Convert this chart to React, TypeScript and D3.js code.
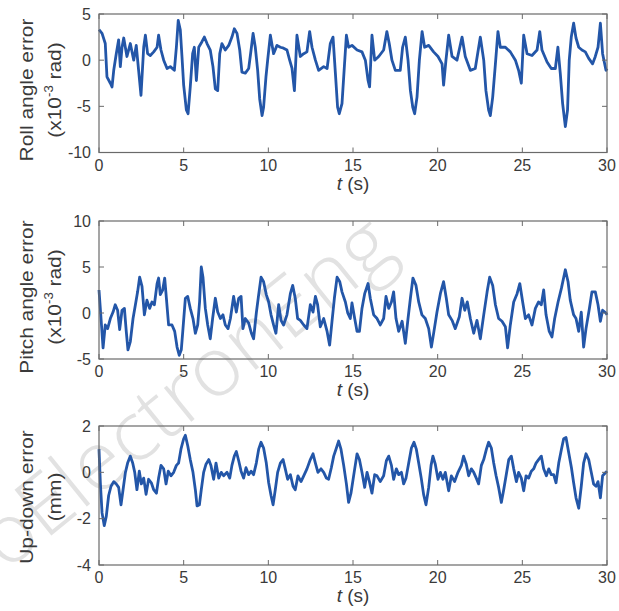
import React, { useEffect, useRef } from "react";
import * as d3 from "d3";

const xTicks = [0, 5, 10, 15, 20, 25, 30];
const rollTicks = [-10, -5, 0, 5];
const pitchTicks = [-5, 0, 5, 10];
const updownTicks = [-4, -2, 0, 2];

// roll angle error (x10^-3 rad) vs t (s)
const rollData: [number, number][] = [
  [0, 3.3], [0.18, 2.9], [0.37, 1.8], [0.47, -1.8], [0.67, -2.5], [0.77, -2.9], [0.87, -1.1], [1.02, 0.7],
  [1.16, 2.2], [1.26, -0.7], [1.36, 1.4], [1.46, 2.4], [1.65, 0.4], [1.85, 1.8], [2.05, 0], [2.2, 1.6],
  [2.34, -1.1], [2.48, -3.8], [2.64, 1.4], [2.74, 2.7], [2.87, 0.7], [3.03, 0.5], [3.23, 0.9], [3.43, 1.4],
  [3.52, 2.7], [3.66, 1.1], [3.82, 0], [4.02, -0.9], [4.21, -0.7], [4.45, -1.1], [4.57, 1.4], [4.68, 4.3],
  [4.8, 3.3], [4.9, 0.4], [5.0, -2.7], [5.16, -5.4], [5.26, -5.8], [5.39, -2.9], [5.53, 0.7], [5.63, 1.4],
  [5.75, -2.2], [5.89, 1.4], [6.08, 2.0], [6.22, 2.5], [6.38, 1.8], [6.57, 1.1], [6.73, -0.7], [6.87, -3.1],
  [7.01, -3.3], [7.13, 0.7], [7.26, 1.8], [7.46, 1.1], [7.66, 1.6], [7.85, 2.5], [7.99, 3.4], [8.15, 2.9],
  [8.31, 1.1], [8.44, -1.3], [8.64, -1.4], [8.84, -0.9], [8.98, 1.1], [9.1, 2.9], [9.23, 1.4], [9.37, -1.1],
  [9.49, -4.2], [9.63, -6.0], [9.72, -5.1], [9.86, -1.8], [9.96, 0], [10.12, 2.7], [10.31, 0.7], [10.51, 1.6],
  [10.71, 1.4], [10.9, 1.3], [11.1, 1.1], [11.26, 0], [11.4, -0.9], [11.54, -3.3], [11.69, 2.7], [11.89, 0.4],
  [12.09, 0.7], [12.28, 0.9], [12.44, 3.1], [12.58, 1.4], [12.78, 0], [12.97, -1.1], [13.27, -0.7], [13.47, -0.9],
  [13.66, 1.8], [13.82, 2.5], [13.96, -1.4], [14.09, -5.1], [14.19, -5.8], [14.35, -4.7], [14.49, -0.7], [14.61, 2.7],
  [14.74, 1.4], [14.94, 1.6], [15.24, 1.1], [15.53, 0.9], [15.73, 0], [15.89, -2.2], [15.98, -2.9], [16.12, 2.7],
  [16.28, 0], [16.52, 0.4], [16.81, 1.1], [17.0, 3.1], [17.14, 1.8], [17.3, 0], [17.5, -1.1], [17.79, -1.1],
  [17.93, 1.4], [18.09, 2.5], [18.25, 0], [18.39, -3.3], [18.53, -5.1], [18.64, -5.8], [18.78, -4.0], [18.92, 0],
  [19.08, 3.1], [19.23, 1.4], [19.47, 1.6], [19.76, 0.9], [20.02, 0.4], [20.26, -0.4], [20.35, -2.7], [20.49, 0],
  [20.65, 2.7], [20.85, 0.4], [21.14, 0], [21.44, 2.5], [21.63, 0.4], [21.93, -1.1], [22.22, -0.9], [22.52, 2.5],
  [22.72, 0], [22.85, -3.3], [23.01, -5.4], [23.11, -6.0], [23.25, -4.0], [23.41, -0.4], [23.56, 3.1], [23.7, 1.4],
  [24.0, 1.4], [24.29, 0.9], [24.59, 0], [24.78, -1.1], [24.94, -2.5], [25.08, 2.7], [25.28, 0.7], [25.57, 0.5],
  [25.87, 1.1], [26.03, 3.1], [26.16, 1.1], [26.46, -0.2], [26.71, -0.9], [26.95, -0.9], [27.1, 1.4], [27.24, -1.4],
  [27.38, -4.7], [27.54, -7.2], [27.67, -5.4], [27.77, 0], [27.89, 2.5], [28.03, 4.0], [28.17, 2.4], [28.33, 1.4],
  [28.52, 1.1], [28.72, 0.9], [28.92, 0.2], [29.15, -0.4], [29.31, 0.4], [29.47, 1.4], [29.61, 4.0], [29.74, 0.7],
  [29.94, -1.1], [30, -0.9],
];

// pitch angle error (x10^-3 rad)
const pitchData: [number, number][] = [
  [0, 2.5], [0.12, -0.6], [0.24, -3.8], [0.37, -1.3], [0.51, -1.7], [0.67, -0.6], [0.83, 0.1], [0.96, 0.9],
  [1.1, 0.3], [1.22, -1.8], [1.36, 0.3], [1.5, 0.5], [1.61, -2.0], [1.71, -4.0], [1.85, -3.1], [2.01, -0.6],
  [2.15, 0.9], [2.28, 2.3], [2.4, 3.9], [2.54, 2.9], [2.68, -0.2], [2.83, 1.4], [2.99, 0.5], [3.13, 1.2],
  [3.27, 0.9], [3.43, 3.2], [3.52, 3.8], [3.62, 2.0], [3.76, 2.5], [3.88, 3.8], [3.98, 1.6], [4.11, -1.3],
  [4.31, -1.3], [4.47, -2.0], [4.61, -3.7], [4.74, -4.6], [4.86, -4.0], [4.96, -1.7], [5.1, 1.6], [5.24, 1.8],
  [5.39, 0.5], [5.55, -0.6], [5.69, -2.2], [5.83, -1.3], [5.94, 1.2], [6.04, 5.0], [6.14, 3.9], [6.28, 0.5],
  [6.42, -1.3], [6.57, -2.8], [6.71, -0.6], [6.87, 1.6], [7.01, 0.1], [7.17, -0.6], [7.32, -0.2], [7.46, -1.3],
  [7.62, -1.7], [7.76, -0.6], [7.95, 1.8], [8.11, 0.1], [8.25, 1.6], [8.39, 1.8], [8.5, -1.7], [8.64, -0.6],
  [8.84, -1.1], [9.0, -2.2], [9.13, -2.8], [9.29, 0], [9.43, 2.0], [9.57, 3.9], [9.72, 3.4], [9.88, 2.0],
  [10.02, 1.2], [10.16, -0.2], [10.31, -1.3], [10.45, -2.2], [10.61, 0.9], [10.75, -0.8], [10.9, -1.3], [11.1, -0.2],
  [11.3, 2.1], [11.44, 3.0], [11.59, 1.6], [11.73, -0.6], [11.89, -0.8], [12.09, -1.3], [12.28, -1.7], [12.48, 0.9],
  [12.64, 0.1], [12.78, 1.8], [12.91, 0.9], [13.07, -1.5], [13.27, -0.6], [13.47, -2.0], [13.62, -3.5], [13.76, -0.9],
  [13.9, 1.6], [14.06, 3.9], [14.22, 3.4], [14.35, 2.3], [14.55, 1.2], [14.69, 0], [14.84, -0.6], [14.94, 1.1],
  [15.1, -0.6], [15.24, -2.0], [15.38, -2.0], [15.53, 0.5], [15.69, 2.1], [15.89, 3.2], [16.02, 1.6], [16.22, -0.2],
  [16.42, -0.6], [16.61, -1.3], [16.81, -0.6], [16.95, 1.8], [17.11, 0.5], [17.27, 1.2], [17.4, 2.3], [17.54, -0.6],
  [17.7, -2.0], [17.9, -0.9], [18.09, -3.3], [18.25, -0.6], [18.39, 1.6], [18.54, 3.8], [18.72, 3.0], [18.88, 1.2],
  [19.07, -0.2], [19.27, -0.6], [19.47, -1.7], [19.63, -3.7], [19.78, -2.0], [19.96, 0.1], [20.16, 2.1], [20.35, 3.4],
  [20.51, 1.6], [20.65, -0.2], [20.85, -0.8], [21.04, -1.7], [21.28, -0.4], [21.44, 1.6], [21.6, 0.3], [21.75, 1.2],
  [21.93, -0.6], [22.13, -2.2], [22.32, -0.8], [22.52, -2.8], [22.72, -0.2], [22.92, 2.3], [23.07, 3.9], [23.25, 3.0],
  [23.41, 0.9], [23.6, -0.6], [23.8, -0.9], [24.0, -1.5], [24.13, -3.8], [24.29, -1.3], [24.49, 1.2], [24.69, 2.1],
  [24.85, 3.2], [25.02, 1.2], [25.18, -0.6], [25.37, -0.2], [25.57, -1.3], [25.77, 0.5], [25.96, 1.2], [26.12, 0.9],
  [26.26, 2.5], [26.4, -0.2], [26.59, -2.0], [26.75, -2.6], [26.91, -0.6], [27.11, 1.2], [27.31, 2.7], [27.54, 4.7],
  [27.7, 3.4], [27.83, 1.4], [28.03, -0.2], [28.17, -0.6], [28.33, -2.0], [28.48, 0.1], [28.62, -3.7], [28.76, -1.7],
  [28.96, 0.5], [29.11, 2.3], [29.31, 2.3], [29.47, 0.9], [29.61, -0.9], [29.74, 0.3], [29.94, 0], [30, -0.2],
];

// up-down error (mm)
const updownData: [number, number][] = [
  [0, 1.0], [0.08, -0.45], [0.18, -1.75], [0.31, -2.3], [0.43, -1.9], [0.57, -1.0], [0.71, -0.6], [0.87, -0.4],
  [1.02, -0.5], [1.16, -0.65], [1.3, -1.4], [1.42, -0.75], [1.56, 0], [1.69, 0.4], [1.85, 0.7], [1.99, 0.4],
  [2.11, 0], [2.24, -0.75], [2.38, 0.05], [2.5, -0.5], [2.64, -0.25], [2.78, -0.95], [2.93, -0.3], [3.09, -0.45],
  [3.23, -0.75], [3.39, -0.9], [3.52, -0.25], [3.66, 0.3], [3.82, 0.15], [3.96, -0.5], [4.09, 0.05], [4.25, -0.15],
  [4.41, 0], [4.57, 0.3], [4.7, 0.4], [4.84, 1.0], [5.0, 1.45], [5.1, 1.6], [5.24, 1.15], [5.39, 0.55],
  [5.55, 0], [5.69, -0.75], [5.79, -1.45], [5.93, -1.4], [6.04, -0.75], [6.18, 0], [6.32, 0.35], [6.48, 0.55],
  [6.61, 0.3], [6.77, -0.3], [6.91, 0.4], [7.07, -0.25], [7.22, 0], [7.36, -0.15], [7.56, 0], [7.72, -0.25],
  [7.85, 0.3], [7.99, 0.7], [8.11, 0.9], [8.25, 0.5], [8.39, 0.05], [8.54, -0.25], [8.68, 0.2], [8.84, -0.1],
  [8.98, 0.05], [9.13, -0.1], [9.29, 0.4], [9.43, 1.0], [9.57, 1.3], [9.72, 1.05], [9.88, 0.4], [10.02, -0.45],
  [10.16, -1.0], [10.28, -1.4], [10.41, -0.75], [10.55, 0], [10.71, 0.4], [10.87, 0.55], [11.0, 0.15], [11.14, -0.3],
  [11.3, -0.1], [11.46, -0.6], [11.59, -0.75], [11.75, -0.15], [11.93, -0.4], [12.09, -0.15], [12.28, 0.15], [12.48, 0.55],
  [12.64, 0.8], [12.78, 0.4], [12.93, 0], [13.11, 0.15], [13.27, 0], [13.43, -0.25], [13.56, -0.3], [13.72, 0.2],
  [13.86, 0.7], [14.02, 1.05], [14.15, 1.35], [14.29, 1.0], [14.45, 0.3], [14.61, -0.5], [14.74, -1.3], [14.88, -0.9],
  [15.1, 0.15], [15.24, 0.8], [15.38, 0.55], [15.53, 0], [15.69, -0.65], [15.83, 0], [15.97, -0.4], [16.12, -0.9],
  [16.28, -0.1], [16.42, -0.15], [16.61, -0.4], [16.81, -0.15], [16.97, 0.5], [17.11, 0.7], [17.27, 0.3], [17.4, -0.3],
  [17.56, 0.15], [17.7, -0.1], [17.86, 0], [17.99, -0.5], [18.13, -0.25], [18.29, 0.4], [18.45, 1.05], [18.6, 1.3],
  [18.74, 1.0], [18.88, 0.4], [19.03, -0.25], [19.17, -0.95], [19.31, -1.4], [19.47, -0.65], [19.61, 0.3], [19.72, 0.7],
  [19.86, 0.35], [20.02, -0.3], [20.16, 0], [20.31, -0.3], [20.45, 0], [20.65, -0.8], [20.81, -0.15], [21.0, -0.4],
  [21.2, 0], [21.4, 0.3], [21.53, 0.7], [21.69, 0.35], [21.83, -0.15], [21.99, 0.15], [22.13, 0], [22.28, -0.25],
  [22.42, -0.5], [22.58, 0.3], [22.72, 0.55], [22.88, 1.0], [23.01, 1.3], [23.17, 1.05], [23.31, 0.4], [23.45, -0.15],
  [23.6, -0.65], [23.76, -1.3], [23.9, -0.75], [24.04, -0.15], [24.2, 0.55], [24.35, 0.7], [24.49, 0.15], [24.65, -0.4],
  [24.78, 0], [24.94, -0.25], [25.08, -0.8], [25.22, -0.15], [25.37, -0.25], [25.53, 0.05], [25.67, 0.15], [25.81, 0.4],
  [25.96, 0.55], [26.12, 0.7], [26.26, 0.15], [26.42, -0.15], [26.56, 0.15], [26.71, -0.1], [26.85, -0.1], [26.99, -0.45],
  [27.15, 0.4], [27.31, 1.0], [27.44, 1.45], [27.58, 1.5], [27.74, 0.85], [27.9, 0.2], [28.03, -0.45], [28.17, -1.1],
  [28.33, -1.55], [28.48, -0.6], [28.62, 0.4], [28.76, 0.8], [28.92, 0.55], [29.07, 0], [29.21, -0.5], [29.35, -0.6],
  [29.47, -0.4], [29.61, -1.1], [29.74, -0.15], [29.94, 0], [30, 0.05],
];

const panels = [
  { data: rollData, domain: [-10, 5], ticks: rollTicks, top: 14, bottom: 152.5, title: "Roll angle error", unit: "rad", sup: true, mid: 90 },
  { data: pitchData, domain: [-5, 10], ticks: pitchTicks, top: 221, bottom: 359, title: "Pitch angle error", unit: "rad", sup: true, mid: 297 },
  { data: updownData, domain: [-4, 2], ticks: updownTicks, top: 426, bottom: 565, title: "Up-down error", unit: "(mm)", sup: false, mid: 497 },
];

const lineColor = "#2356a8";
const axisColor = "#6a6a6a";
const textColor = "#3a3a3a";
const font = "'Liberation Sans', Arial, sans-serif";

export default function App() {
  const ref = useRef<SVGSVGElement>(null);

  useEffect(() => {
    const svg = d3.select(ref.current);
    svg.selectAll("*").remove();

    // faint watermark across the figure
    svg
      .append("text")
      .attr("transform", "translate(6,572) rotate(-39)")
      .attr("font-family", "'Open Sans', " + font)
      .attr("font-weight", 300)
      .attr("font-size", 82)
      .attr("fill", "#e2e2e2")
      .attr("textLength", 505)
      .attr("lengthAdjust", "spacingAndGlyphs")
      .text("oElectronEng");

    const x = d3.scaleLinear().domain([0, 30]).range([99, 607]);

    panels.forEach((p) => {
      const y = d3.scaleLinear().domain(p.domain).range([p.bottom, p.top]);
      const g = svg.append("g");

      const line = d3
        .line<[number, number]>()
        .x((d) => x(d[0]))
        .y((d) => y(d[1]));

      g.append("path")
        .datum(p.data)
        .attr("d", line)
        .attr("fill", "none")
        .attr("stroke", lineColor)
        .attr("stroke-width", 2.8)
        .attr("stroke-linejoin", "round");

      // box
      g.append("rect")
        .attr("x", x(0))
        .attr("y", p.top)
        .attr("width", x(30) - x(0))
        .attr("height", p.bottom - p.top)
        .attr("fill", "none")
        .attr("stroke", axisColor)
        .attr("stroke-width", 1.2);

      // inward ticks on all four sides
      xTicks.forEach((t) => {
        g.append("line").attr("x1", x(t)).attr("x2", x(t)).attr("y1", p.bottom).attr("y2", p.bottom - 5).attr("stroke", axisColor);
        g.append("line").attr("x1", x(t)).attr("x2", x(t)).attr("y1", p.top).attr("y2", p.top + 5).attr("stroke", axisColor);
        g.append("text")
          .attr("x", x(t))
          .attr("y", p.bottom + 18)
          .attr("text-anchor", "middle")
          .attr("font-family", font)
          .attr("font-size", 16)
          .attr("fill", textColor)
          .text(String(t));
      });
      p.ticks.forEach((v) => {
        g.append("line").attr("x1", x(0)).attr("x2", x(0) + 5).attr("y1", y(v)).attr("y2", y(v)).attr("stroke", axisColor);
        g.append("line").attr("x1", x(30)).attr("x2", x(30) - 5).attr("y1", y(v)).attr("y2", y(v)).attr("stroke", axisColor);
        g.append("text")
          .attr("x", 91)
          .attr("y", y(v) + 5.8)
          .attr("text-anchor", "end")
          .attr("font-family", font)
          .attr("font-size", 16)
          .attr("fill", textColor)
          .text(String(v));
      });

      // x axis title
      const xt = g
        .append("text")
        .attr("x", 353)
        .attr("y", p.bottom + 37)
        .attr("text-anchor", "middle")
        .attr("font-family", font)
        .attr("font-size", 19)
        .attr("fill", textColor);
      xt.append("tspan").attr("font-style", "italic").text("t");
      xt.append("tspan").text(" (s)");

      // y axis title, two lines
      g.append("text")
        .attr("transform", `translate(33,${p.mid}) rotate(-90) scale(1.1,1)`)
        .attr("text-anchor", "middle")
        .attr("font-family", font)
        .attr("font-size", 19)
        .attr("fill", textColor)
        .text(p.title);

      const yt2 = g
        .append("text")
        .attr("transform", `translate(61,${p.mid}) rotate(-90) scale(1.1,1)`)
        .attr("text-anchor", "middle")
        .attr("font-family", font)
        .attr("font-size", 19)
        .attr("fill", textColor);
      if (p.sup) {
        yt2.append("tspan").text("(x10");
        yt2.append("tspan").attr("font-size", 12).attr("dy", -8).text("-3");
        yt2.append("tspan").attr("dy", 8).text(" " + p.unit + ")");
      } else {
        yt2.text(p.unit);
      }
    });
  }, []);

  return (
    <svg
      ref={ref}
      width={619}
      height={611}
      style={{ position: "absolute", left: 0, top: 0, background: "#fff" }}
    />
  );
}
